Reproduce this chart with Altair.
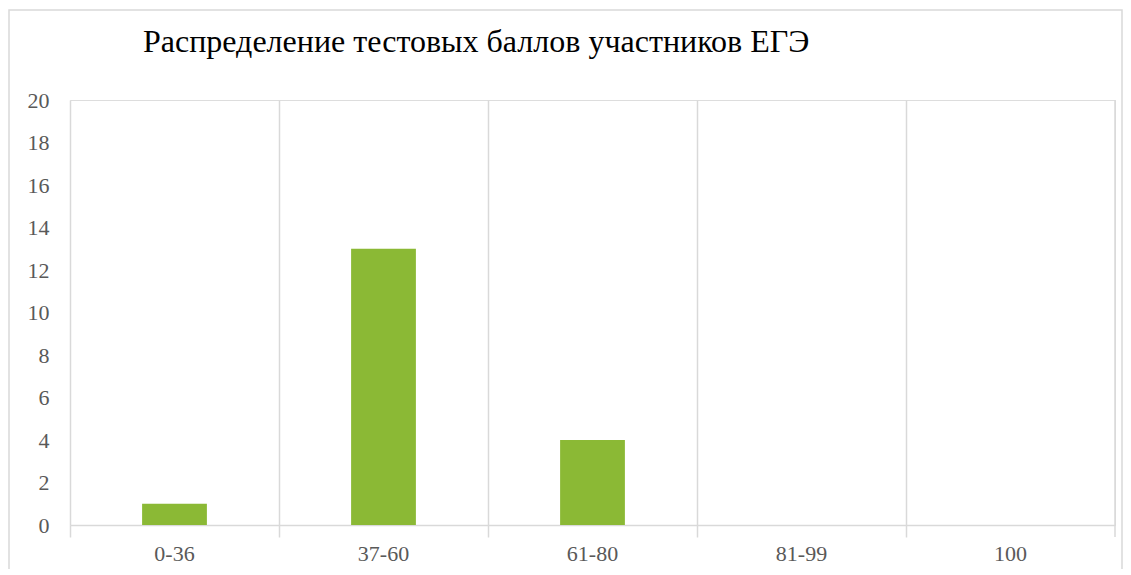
import altair as alt
import pandas as pd

categories = ["0-36", "37-60", "61-80", "81-99", "100"]
counts = [1, 13, 4, 0, 0]
y_ticks = [0, 2, 4, 6, 8, 10, 12, 14, 16, 18, 20]
title_text = "Распределение тестовых баллов участников ЕГЭ"

df = pd.DataFrame({"cat": categories, "n": counts})
FONT = "Liberation Serif, Times New Roman, serif"
GRID = "#d9d9d9"

x_enc = alt.X(
    "cat:N",
    sort=categories,
    scale=alt.Scale(paddingInner=0, paddingOuter=0),
    axis=alt.Axis(
        title=None, labelAngle=0, labelFont=FONT, labelFontSize=22,
        labelColor="#595959", grid=True, gridColor=GRID, gridWidth=1.5,
        domainColor=GRID, domainWidth=1.5, tickColor=GRID, tickWidth=1.5,
        tickSize=12, bandPosition=0, labelPadding=6,
    ),
)

bars = alt.Chart(df).mark_bar(
    color="#8BB935", width=alt.RelativeBandSize(band=0.31)
).encode(
    x=x_enc,
    y=alt.Y(
        "n:Q",
        scale=alt.Scale(domain=[0, 20], nice=False),
        axis=alt.Axis(
            title=None, values=y_ticks, grid=False, domain=False, ticks=False,
            labelFont=FONT, labelFontSize=22, labelColor="#595959",
            labelPadding=21,
        ),
    ),
)

last_rule = alt.Chart(df[df["cat"] == categories[-1]]).mark_rule(
    color=GRID, strokeWidth=1.5
).encode(
    x=alt.X("cat:N", sort=categories, bandPosition=1),
    y=alt.value(0),
    y2=alt.value(437),
)

frame = alt.Chart(pd.DataFrame({"a": [0]})).mark_rect(
    fill=None, stroke=GRID, strokeWidth=1.5
).encode(
    x=alt.value(-61), x2=alt.value(1052), y=alt.value(-90), y2=alt.value(480)
)

chart = alt.layer(frame, bars, last_rule).properties(
    width=1045,
    height=425,
    title=alt.TitleParams(
        title_text, font=FONT, fontSize=32, fontWeight="normal", color="#000000",
        anchor="start", frame="group", dx=73, dy=75, baseline="alphabetic", offset=0,
    ),
    autosize=alt.AutoSizeParams(type="none"),
    padding={"left": 62, "top": 92, "right": 8, "bottom": 44},
).configure_view(stroke=None).configure(background="white", font=FONT)

chart.save("out.html", embed_options={"renderer": "svg", "actions": False})
